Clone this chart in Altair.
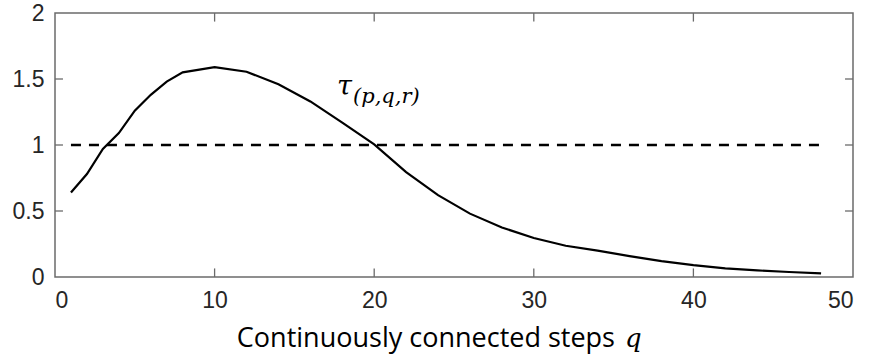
import altair as alt
import pandas as pd

# Data
q_vals = [1, 2, 3, 4, 5, 6, 7, 8, 10, 12, 14, 16, 18, 20, 22, 24, 26, 28, 30,
          32, 34, 36, 38, 40, 42, 44, 46, 48]
tau_vals = [0.64, 0.78, 0.97, 1.09, 1.26, 1.38, 1.48, 1.55, 1.59, 1.555, 1.46,
            1.33, 1.17, 1.005, 0.795, 0.62, 0.48, 0.375, 0.295, 0.237, 0.20,
            0.158, 0.12, 0.09, 0.066, 0.05, 0.038, 0.028]
ref_q = [1, 48]
ref_tau = [1, 1]
x_ticks = [0, 10, 20, 30, 40, 50]
y_ticks = [0, 0.5, 1, 1.5, 2]
x_inner_ticks = [10, 20, 30, 40]
y_inner_ticks = [0.5, 1, 1.5]

W, H = 798, 264
AX = "#6b6b6b"
LBL = "#262626"

curve = pd.DataFrame({"q": q_vals, "tau": tau_vals})
ref = pd.DataFrame({"q": ref_q, "tau": ref_tau})
xt = pd.DataFrame({"v": x_inner_ticks})
yt = pd.DataFrame({"v": y_inner_ticks})

xscale = alt.Scale(domain=[0, 50], nice=False, zero=False)
yscale = alt.Scale(domain=[0, 2], nice=False, zero=False)

xaxis = alt.Axis(values=x_ticks, title=None, labelPadding=12, format="~g",
                 ticks=False, domain=False, grid=False,
                 labelFont="Liberation Sans", labelFontSize=23, labelColor=LBL)
yaxis = alt.Axis(values=y_ticks, title=None, labelPadding=11, format="~g",
                 ticks=False, domain=False, grid=False,
                 labelFont="Liberation Sans", labelFontSize=23, labelColor=LBL)

line = alt.Chart(curve).mark_line(color="black", strokeWidth=2.2).encode(
    x=alt.X("q:Q", scale=xscale, axis=xaxis),
    y=alt.Y("tau:Q", scale=yscale, axis=yaxis),
)

dashed = alt.Chart(ref).mark_line(color="black", strokeWidth=2.5, strokeDash=[10, 8]).encode(
    x=alt.X("q:Q", scale=xscale, axis=xaxis),
    y=alt.Y("tau:Q", scale=yscale, axis=yaxis),
)

tick_len_y = 0.065
tick_len_x = 0.5

bottom_ticks = alt.Chart(xt).mark_rule(color=AX, strokeWidth=1.3).encode(
    x=alt.X("v:Q", scale=xscale, axis=xaxis), y=alt.datum(0), y2=alt.datum(tick_len_y))
top_ticks = alt.Chart(xt).mark_rule(color=AX, strokeWidth=1.3).encode(
    x=alt.X("v:Q", scale=xscale, axis=xaxis), y=alt.datum(2), y2=alt.datum(2 - tick_len_y))
left_ticks = alt.Chart(yt).mark_rule(color=AX, strokeWidth=1.3).encode(
    y=alt.Y("v:Q", scale=yscale, axis=yaxis), x=alt.datum(0), x2=alt.datum(tick_len_x))
right_ticks = alt.Chart(yt).mark_rule(color=AX, strokeWidth=1.3).encode(
    y=alt.Y("v:Q", scale=yscale, axis=yaxis), x=alt.datum(50), x2=alt.datum(50 - tick_len_x))

tau_txt = alt.Chart(pd.DataFrame({"t": ["τ"]})).mark_text(
    font="DejaVu Serif", fontStyle="italic", fontSize=27, color="black",
    align="left", baseline="alphabetic").encode(
    text="t:N", x=alt.value(282), y=alt.value(82))
sub_txt = alt.Chart(pd.DataFrame({"t": ["(p,q,r)"]})).mark_text(
    font="DejaVu Serif", fontStyle="italic", fontSize=21, color="black",
    align="left", baseline="alphabetic").encode(
    text="t:N", x=alt.value(298), y=alt.value(90))

title_txt = alt.Chart(pd.DataFrame({"t": ["Continuously connected steps"]})).mark_text(
    font="Open Sans", fontSize=27, color="black", align="right", baseline="alphabetic").encode(
    text="t:N", x=alt.value(560), y=alt.value(334))
q_txt = alt.Chart(pd.DataFrame({"t": ["q"]})).mark_text(
    font="DejaVu Serif", fontStyle="italic", fontSize=26, color="black",
    align="left", baseline="alphabetic").encode(
    text="t:N", x=alt.value(570), y=alt.value(334))

chart = alt.layer(
    line, dashed, bottom_ticks, top_ticks, left_ticks, right_ticks,
    tau_txt, sub_txt, title_txt, q_txt
).properties(
    width=W, height=H,
    background="white",
    autosize=alt.AutoSizeParams(type="none"),
    padding={"left": 55, "top": 13, "right": 18, "bottom": 85},
).configure_axis(
    ticks=False, domain=False, grid=False,
    labelFont="Liberation Sans", labelFontSize=23, labelColor=LBL,
).configure_view(
    stroke=AX, strokeWidth=1.5
)

chart.save("out.html", embed_options={"renderer": "svg", "actions": False})
